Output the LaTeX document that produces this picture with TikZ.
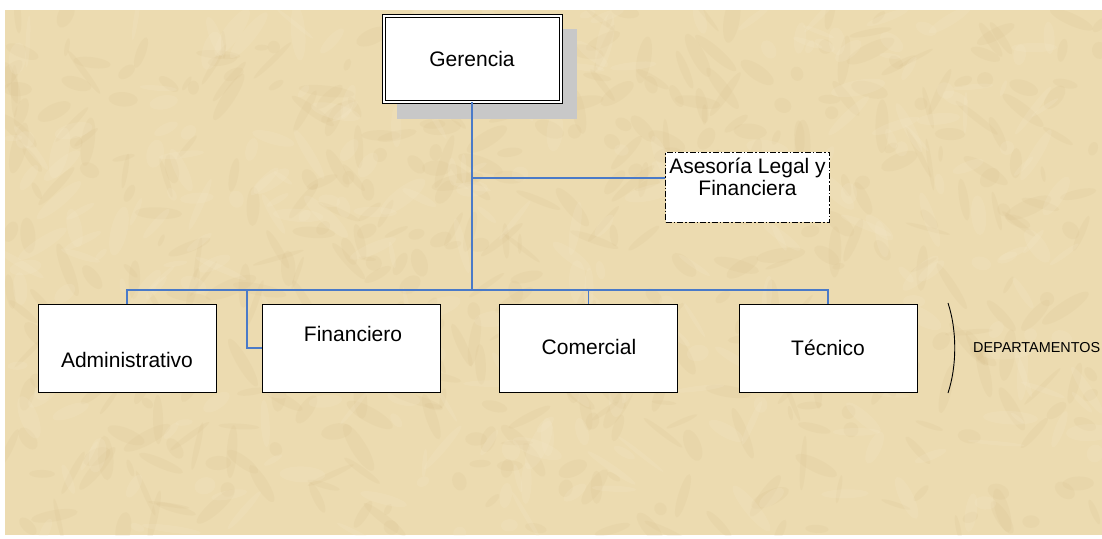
\documentclass[tikz,border=0pt]{standalone}
\usepackage{fontspec}
\setmainfont{Liberation Sans}
\definecolor{parch}{RGB}{236,219,176}
\definecolor{parchdark}{RGB}{210,184,132}
\definecolor{parchlight}{RGB}{246,234,204}
\definecolor{linkblue}{RGB}{74,122,200}
\definecolor{shadowgrey}{RGB}{200,200,200}
\tikzset{
  unit/.style={draw=black, line width=0.9pt, fill=white, minimum width=178pt, minimum height=88pt, inner sep=0pt},
  link/.style={draw=linkblue, line width=1.2pt},
  lbl/.style={font=\fontsize{21}{24}\selectfont},
}
\begin{document}
\begin{tikzpicture}[x=1pt,y=-1pt]
\useasboundingbox (0,0) rectangle (1102,538);
% parchment background
\fill[white] (0,0) rectangle (1102,538);
\fill[parch] (5,10) rectangle (1102,535);
\begin{scope}
\clip (5,10) rectangle (1102,535);
\pgfmathsetseed{7}
\foreach \i in {1,...,500}{
  \pgfmathsetmacro{\px}{5+rnd*1097}
  \pgfmathsetmacro{\py}{10+rnd*525}
  \pgfmathsetmacro{\rx}{6+rnd*22}
  \pgfmathsetmacro{\ry}{2+rnd*6}
  \pgfmathsetmacro{\rot}{rnd*180}
  \fill[parchdark, opacity=0.12, rotate around={\rot:(\px,\py)}] (\px,\py) ellipse ({\rx} and {\ry});
}
\foreach \i in {1,...,300}{
  \pgfmathsetmacro{\px}{5+rnd*1097}
  \pgfmathsetmacro{\py}{10+rnd*525}
  \pgfmathsetmacro{\rx}{6+rnd*24}
  \pgfmathsetmacro{\ry}{2+rnd*7}
  \pgfmathsetmacro{\rot}{rnd*180}
  \fill[parchlight, opacity=0.18, rotate around={\rot:(\px,\py)}] (\px,\py) ellipse ({\rx} and {\ry});
}
\end{scope}

% head office with drop shadow and double border
\fill[shadowgrey] (397,29) rectangle (577,119);
\node[draw=black, double=white, double distance=2pt, line width=1pt, fill=white,
      minimum width=177pt, minimum height=86pt, inner sep=0pt, lbl]
      (ger) at (472,58.5) {Gerencia};

% advisory unit (staff position)
\node[draw=black, line width=1pt, dash pattern=on 6pt off 2pt on 1.5pt off 2pt, fill=white,
      minimum width=164pt, minimum height=70pt, inner sep=0pt] (ase) at (747.5,187) {};
\node[align=center, font=\fontsize{21}{22}\selectfont] (asetxt) at (747.5,177) {Asesoría Legal y\\Financiera};

% departments
\node[unit] (adm) at (127,348) {};
\node[lbl] (admtxt) at (127,360) {Administrativo};
\node[unit] (fin) at (351,348) {};
\node[lbl] (fintxt) at (353,334) {Financiero};
\node[unit] (com) at (588.5,348) {};
\node[lbl] (comtxt) at (589,347) {Comercial};
\node[unit] (tec) at (828,348) {};
\node[lbl] (tectxt) at (828,348) {Técnico};

% connectors
\coordinate (busL) at (127,290);
\coordinate (busR) at (828,290);
\coordinate (busM) at (472,290);
\coordinate (finDrop) at (247,290);
\coordinate (aseTap) at (472,178);
\draw[link] (ger.south) -- (busM);
\draw[link] (aseTap) -- (ase.west |- aseTap);
\draw[link] (adm.north) -- (busL) -- (busR) -- (tec.north);
\draw[link] (com.north) -- (com.north |- busL);
\draw[link] (finDrop) -- (finDrop |- fin.west) -- (fin.west);

% bracket and group label
\coordinate (brT) at (948,303);
\coordinate (brB) at (948,393);
\draw[line width=0.9pt] (brT) .. controls (957,330) and (957,366) .. (brB);
\node[font=\fontsize{14.4}{16}\selectfont, anchor=west, inner sep=0pt] (dep) at (973,348) {DEPARTAMENTOS};
\end{tikzpicture}
\end{document}
